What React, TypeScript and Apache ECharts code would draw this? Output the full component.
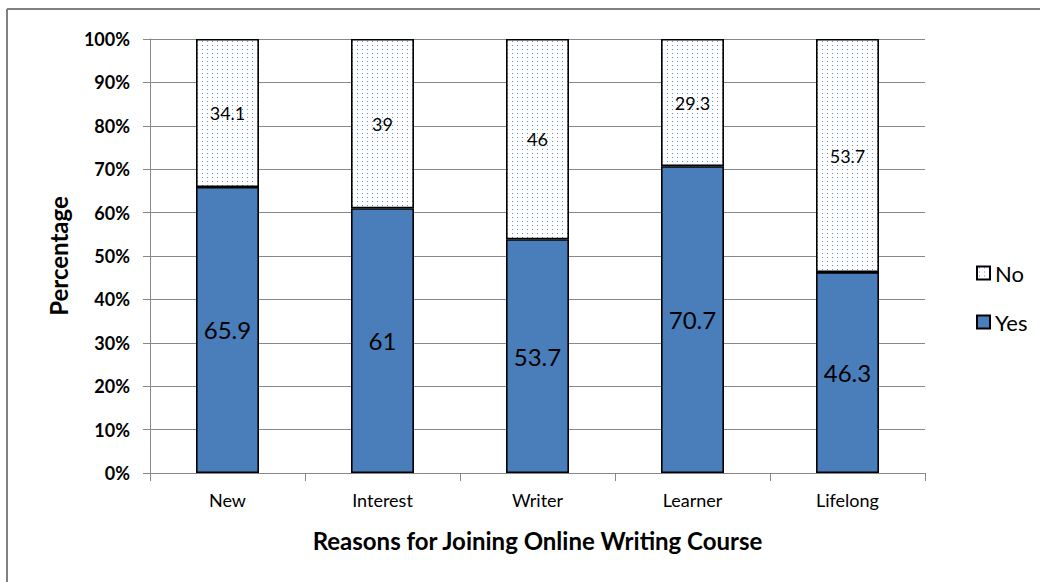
import React, { useEffect, useRef } from "react";
import * as echarts from "echarts";

const categories = ["New", "Interest", "Writer", "Learner", "Lifelong"];
const yesValues = [65.9, 61, 53.7, 70.7, 46.3];
const noValues = [34.1, 39, 46, 29.3, 53.7];
const seriesNames = ["Yes", "No"];
const xTitle = "Reasons for Joining Online Writing Course";
const yTitle = "Percentage";

function makeDots(): string {
  const c = document.createElement("canvas");
  c.width = 5;
  c.height = 4;
  const ctx = c.getContext("2d")!;
  ctx.fillStyle = "#ffffff";
  ctx.fillRect(0, 0, 5, 4);
  ctx.fillStyle = "#5f8ad6";
  ctx.fillRect(2, 1, 1, 1);
  return c.toDataURL();
}

export default function App() {
  const ref = useRef<HTMLDivElement>(null);
  useEffect(() => {
    document.body.style.margin = "0";
    const chart = echarts.init(ref.current!, undefined, { renderer: "svg" });
    const font = "Lato, 'Open Sans', sans-serif";
    const totals = yesValues.map((v, i) => v + noValues[i]);
    const dots = makeDots();
    chart.setOption({
      animation: false,
      backgroundColor: "#ffffff",
      textStyle: { fontFamily: font, color: "#000" },
      graphic: [
        { type: "line", shape: { x1: 7, y1: 9, x2: 1040, y2: 9 }, style: { stroke: "#808080", lineWidth: 2 } },
        { type: "line", shape: { x1: 7, y1: 9, x2: 7, y2: 582 }, style: { stroke: "#808080", lineWidth: 2 } },
      ],
      grid: { left: 150, right: 115, top: 39, bottom: 109 },
      legend: {
        orient: "vertical",
        left: 971,
        top: 257,
        itemWidth: 13,
        itemHeight: 13,
        itemGap: 27,
        icon: "rect",
        data: ["No", "Yes"],
        textStyle: { fontFamily: font, fontSize: 22, color: "#000" },
      },
      xAxis: {
        type: "category",
        data: categories,
        name: xTitle,
        nameLocation: "middle",
        nameGap: 55,
        nameTextStyle: { fontFamily: font, fontSize: 24, fontWeight: "bold", color: "#000" },
        axisLine: { lineStyle: { color: "#888", width: 1 } },
        axisTick: { show: true, length: 8, lineStyle: { color: "#888" } },
        axisLabel: { fontFamily: font, fontSize: 18, color: "#000", margin: 18 },
      },
      yAxis: {
        type: "value",
        min: 0,
        max: 100,
        interval: 10,
        name: yTitle,
        nameLocation: "middle",
        nameGap: 80,
        nameTextStyle: { fontFamily: font, fontSize: 24, fontWeight: "bold", color: "#000" },
        axisLine: { show: true, lineStyle: { color: "#888", width: 1 } },
        axisTick: { show: true, length: 7, lineStyle: { color: "#888" } },
        axisLabel: { formatter: "{value}%", fontFamily: font, fontSize: 18, fontWeight: "bold", color: "#000", margin: 20 },
        splitLine: { lineStyle: { color: "#888", width: 1 } },
      },
      series: [
        {
          name: seriesNames[0],
          type: "bar",
          stack: "total",
          barWidth: 63,
          data: yesValues.map((v, i) => (v / totals[i]) * 100),
          itemStyle: { color: "#4a7ebb", borderColor: "#000", borderWidth: 1.6 },
          label: {
            show: true,
            position: "inside",
            fontFamily: font,
            fontSize: 24,
            color: "#000",
            formatter: (p: any) => String(yesValues[p.dataIndex]),
          },
        },
        {
          name: seriesNames[1],
          type: "bar",
          stack: "total",
          barWidth: 63,
          data: noValues.map((v, i) => (v / totals[i]) * 100),
          itemStyle: { color: { image: dots, repeat: "repeat" }, borderColor: "#000", borderWidth: 1.6 },
          label: {
            show: true,
            position: "inside",
            fontFamily: font,
            fontSize: 18,
            color: "#000",
            formatter: (p: any) => String(noValues[p.dataIndex]),
          },
        },
      ],
    });
    return () => chart.dispose();
  }, []);
  return <div ref={ref} style={{ width: 1040, height: 582 }} />;
}
